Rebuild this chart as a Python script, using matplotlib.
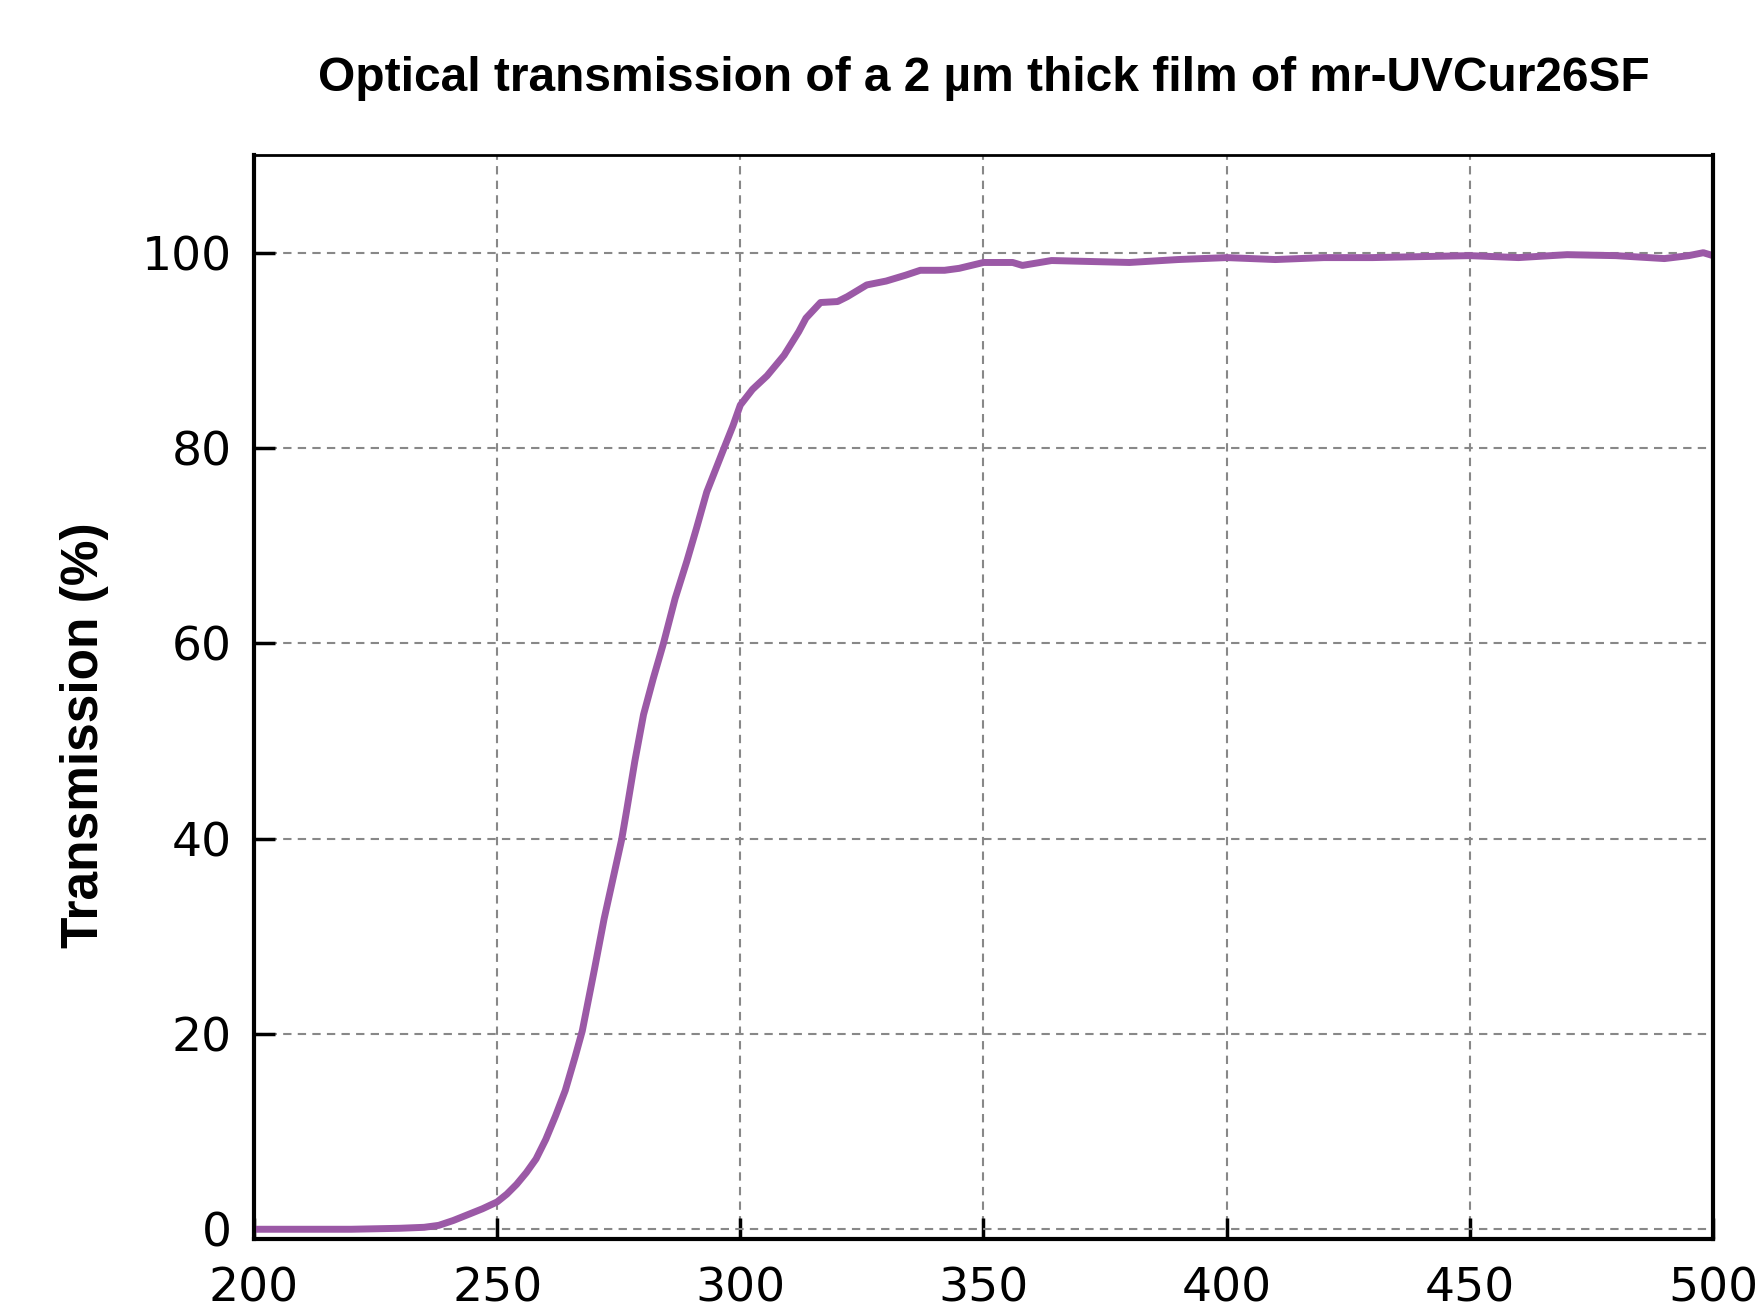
import numpy as np
import matplotlib.pyplot as plt

# wavelength (nm) and transmission (%)
wavelength = [200, 210, 220, 230, 235, 238, 241, 244, 247, 250, 252, 254, 256,
              258, 260, 262, 264, 266, 267.5, 270, 272, 274, 275.6, 276.6, 278.3,
              280.1, 282.1, 284.2, 286.6, 289, 291, 293.1, 296.5, 298.5, 300,
              302.5, 305.5, 309, 312, 313.5, 316.5, 320, 322, 326, 330, 334, 337,
              342, 345, 350, 356, 358, 364, 372, 380, 390, 400, 410, 420, 430,
              440, 450, 460, 470, 480, 490, 495, 498, 500]
transmission = [0.0, 0.0, 0.0, 0.1, 0.2, 0.4, 0.9, 1.5, 2.1, 2.8, 3.6, 4.6, 5.8,
                7.2, 9.2, 11.6, 14.2, 17.6, 20.3, 26.6, 31.8, 36.3, 39.9, 42.8, 47.9,
                52.7, 56.4, 60.0, 64.6, 68.4, 71.8, 75.5, 79.8, 82.3, 84.4,
                86.0, 87.4, 89.5, 91.9, 93.3, 94.9, 95.0, 95.5, 96.7, 97.1, 97.7, 98.2,
                98.2, 98.4, 99.0, 99.0, 98.7, 99.2, 99.1, 99.0, 99.3, 99.5, 99.3, 99.5,
                99.5, 99.6, 99.7, 99.5, 99.8, 99.7, 99.4, 99.7, 100.0, 99.7]

xticks = [200, 250, 300, 350, 400, 450, 500]
yticks = [0, 20, 40, 60, 80, 100]

fig = plt.figure(figsize=(17.6, 13.03), dpi=100)
ax = fig.add_axes([0.1443, 0.0491, 0.829, 0.8319])

ax.plot(wavelength, transmission, color='#9b59a6', lw=5, solid_joinstyle='round')

ax.set_xlim(200, 500)
ax.set_ylim(-1, 110)
ax.set_xticks(xticks)
ax.set_yticks(yticks)
ax.grid(True, ls=(0, (4, 3)), color='#888888', lw=1.5)
ax.set_axisbelow(True)

ax.tick_params(direction='in', length=15, width=2.5, color='black',
               labelsize=34, top=False, right=False)
ax.tick_params(axis='x', pad=20)
ax.tick_params(axis='y', pad=16)
for lab in ax.get_xticklabels() + ax.get_yticklabels():
    lab.set_family('DejaVu Sans')

for side in ['left', 'right', 'bottom']:
    ax.spines[side].set_linewidth(3)
ax.spines['top'].set_linewidth(2)

narrow = ['Liberation Sans Narrow', 'Liberation Sans', 'DejaVu Sans']
fig.text(0.5588, 0.94, 'Optical transmission of a 2 µm thick film of mr-UVCur26SF',
         ha='center', va='center', fontsize=34.5, fontweight='bold', family=narrow)
fig.text(0.048, 0.436, 'Transmission (%)', rotation=90, ha='center', va='center',
         fontsize=37, fontweight='bold', family=narrow)

fig.savefig('out.png', dpi=100)
